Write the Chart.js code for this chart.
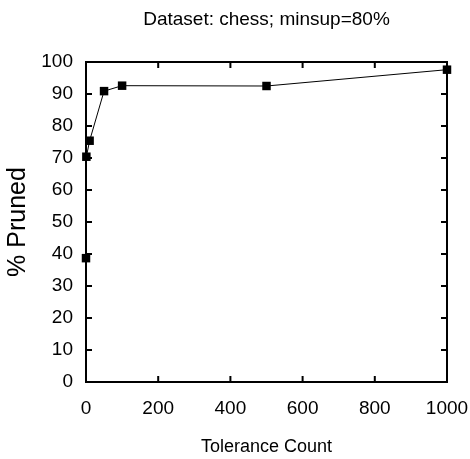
<!DOCTYPE html>
<html>
<head>
<meta charset="utf-8">
<script src="https://cdn.jsdelivr.net/npm/chart.js@4/dist/chart.umd.min.js"></script>
<style>
  html, body { margin: 0; padding: 0; background: #fff; }
  #wrap { width: 470px; height: 459px; }
</style>
</head>
<body>
<div id="wrap"><canvas id="c" width="470" height="459"></canvas></div>
<script>
const chartTitle = 'Dataset: chess; minsup=80%';
const xTitle = 'Tolerance Count';
const yTitle = '% Pruned';
const tolerance = [0, 1, 10, 50, 100, 500, 1000];
const pruned = [38.7, 70.4, 75.4, 90.9, 92.6, 92.5, 97.6];
const xTicks = [0, 200, 400, 600, 800, 1000];
const yTicks = [0, 10, 20, 30, 40, 50, 60, 70, 80, 90, 100];

const fam = '"Liberation Sans", Arial, Helvetica, sans-serif';

const frameTicks = {
  id: 'frameTicks',
  beforeDatasetsDraw(chart) {
    const {ctx, chartArea: a, scales: {x, y}} = chart;
    ctx.save();
    ctx.strokeStyle = '#000';
    ctx.lineWidth = 2;
    ctx.strokeRect(a.left, a.top, a.right - a.left, a.bottom - a.top);
    const L = 6;
    ctx.beginPath();
    xTicks.forEach(v => {
      const px = x.getPixelForValue(v);
      ctx.moveTo(px, a.bottom); ctx.lineTo(px, a.bottom - L);
      ctx.moveTo(px, a.top); ctx.lineTo(px, a.top + L);
    });
    yTicks.forEach(v => {
      const py = y.getPixelForValue(v);
      ctx.moveTo(a.left, py); ctx.lineTo(a.left + L, py);
      ctx.moveTo(a.right, py); ctx.lineTo(a.right - L, py);
    });
    ctx.stroke();
    ctx.restore();
  },
  afterDraw(chart) {
    const {ctx, chartArea: a} = chart;
    ctx.save();
    ctx.fillStyle = '#000';
    ctx.font = '19px ' + fam;
    ctx.textAlign = 'center';
    ctx.textBaseline = 'middle';
    ctx.fillText(chartTitle, (a.left + a.right) / 2, 20);
    ctx.restore();
  }
};

new Chart(document.getElementById('c'), {
  type: 'line',
  data: {
    datasets: [{
      data: tolerance.map((t, i) => ({x: t, y: pruned[i]})),
      borderColor: '#000',
      backgroundColor: '#000',
      borderWidth: 1,
      pointStyle: 'rect',
      pointRadius: 6,
      pointBorderWidth: 0,
      tension: 0,
      fill: false,
      clip: false
    }]
  },
  plugins: [frameTicks],
  options: {
    responsive: false,
    animation: false,
    devicePixelRatio: 1,
    layout: { padding: { left: 0, right: 23, top: 62, bottom: 0 } },
    plugins: {
      legend: { display: false },
      tooltip: { enabled: false },
      title: { display: false }
    },
    scales: {
      x: {
        type: 'linear',
        min: 0, max: 1000,
        afterBuildTicks: s => { s.ticks = xTicks.map(v => ({value: v})); },
        afterFit: s => { s.height = 77; s.paddingLeft = 0; s.paddingRight = 0; },
        grid: { display: false, drawTicks: false },
        border: { display: true, color: '#000', width: 2 },
        ticks: { color: '#000', padding: 15, maxRotation: 0, font: { family: fam, size: 19 }, callback: v => String(v) },
        title: { display: true, text: xTitle, color: '#000', font: { family: fam, size: 18 }, padding: { top: 0, bottom: 1 } }
      },
      y: {
        type: 'linear',
        min: 0, max: 100,
        afterBuildTicks: s => { s.ticks = yTicks.map(v => ({value: v})); },
        afterFit: s => { s.width = 86; s.paddingTop = 0; s.paddingBottom = 0; },
        grid: { display: false, drawTicks: false },
        border: { display: true, color: '#000', width: 2 },
        ticks: { color: '#000', padding: 13, font: { family: fam, size: 19 }, callback: v => String(v) },
        title: { display: true, text: yTitle, color: '#000', font: { family: fam, size: 25 }, padding: { top: 3, bottom: 0 } }
      }
    }
  }
});
</script>
</body>
</html>
